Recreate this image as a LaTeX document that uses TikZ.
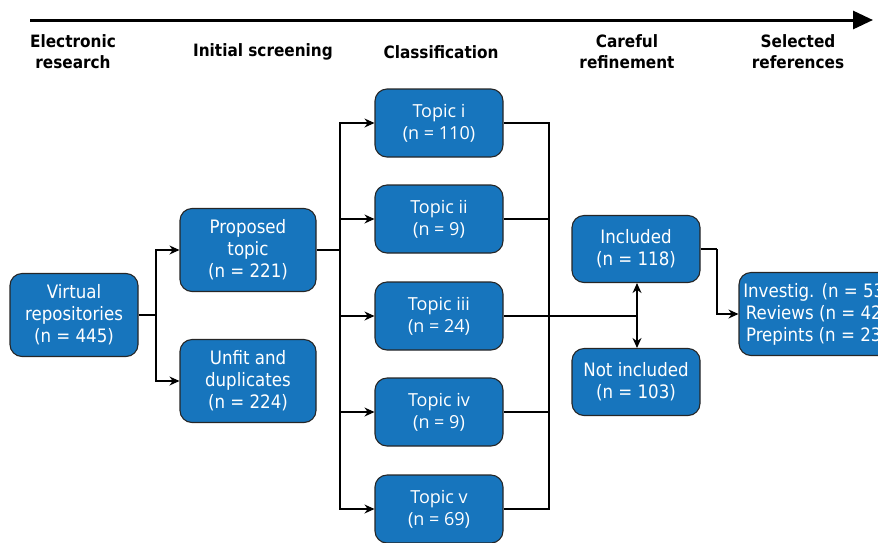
\documentclass[tikz,border=0pt]{standalone}
\usepackage{fontspec}
\setmainfont{DejaVu Sans Condensed}
\newfontfamily\topicfont{Open Sans}
\usetikzlibrary{arrows.meta}
\definecolor{boxblue}{RGB}{23,117,189}
\begin{document}
\begin{tikzpicture}[x=1pt,y=-1pt,
  box/.style={draw=black!85, line width=1.1pt, fill=boxblue, rounded corners=12pt, text=white, align=center, font=\fontsize{18.5}{22}\selectfont, inner sep=0pt, minimum width=128pt, minimum height=83pt},
  topicbox/.style={box, minimum height=68pt, font=\topicfont\fontsize{18}{22}\selectfont},
  refbox/.style={box, minimum height=67pt},
  hdr/.style={font=\bfseries\fontsize{17}{21}\selectfont, align=center, inner sep=0pt},
  conn/.style={line width=1.1pt},
  arr/.style={conn, -{Stealth[length=10pt,width=9pt]}}]
\useasboundingbox (0,0) rectangle (878,542);
\clip (0,0) rectangle (878,542);
% timeline
\coordinate (ts) at (30,20);
\coordinate (te) at (873,20);
\draw[line width=3pt, -{Triangle[length=20pt,width=18pt]}] (ts) -- (te);
\node[hdr] (h1) at (73,52) {Electronic\\research};
\node[hdr] (h2) at (263,52) {Initial screening};
\node[hdr] (h3) at (441,52) {Classification};
\node[hdr] (h4) at (627,52) {Careful\\refinement};
\node[hdr] (h5) at (798,52) {Selected\\references};
% boxes
\node[box] (vr) at (74,315) {Virtual\\repositories\\(n = 445)};
\node[box, minimum width=136pt] (pt) at (248,250) {Proposed\\topic\\(n = 221)};
\node[box, minimum width=136pt] (uf) at (248,381) {Unfit and\\duplicates\\(n = 224)};
\node[topicbox] (t1) at (439,123) {Topic i\\(n = 110)};
\node[topicbox] (t2) at (439,219) {Topic ii\\(n = 9)};
\node[topicbox] (t3) at (439,316) {Topic iii\\(n = 24)};
\node[topicbox] (t4) at (439,412) {Topic iv\\(n = 9)};
\node[topicbox] (t5) at (439,509) {Topic v\\(n = 69)};
\node[refbox] (inc) at (636,249) {Included\\(n = 118)};
\node[refbox] (ninc) at (636,382) {Not included\\(n = 103)};
\node[box, minimum width=156pt] (sel) at (817,314) {Investig. (n = 53)\\Reviews (n = 42)\\Prepints (n = 23)};
% connectors
\coordinate (j1) at (156,315);
\draw[conn] (vr.east) -- (j1);
\draw[arr] (j1) |- (pt.west);
\draw[arr] (j1) |- (uf.west);
\coordinate (j2) at (340,250);
\draw[conn] (pt.east) -- (j2);
\draw[arr] (j2) |- (t1.west);
\draw[arr] (j2) |- (t2.west);
\draw[arr] (j2) |- (t3.west);
\draw[arr] (j2) |- (t4.west);
\draw[arr] (j2) |- (t5.west);
\coordinate (j3) at (549,316);
\coordinate (j4) at (637,316);
\draw[conn] (t1.east) -| (j3);
\draw[conn] (t2.east) -| (j3);
\draw[conn] (t4.east) -| (j3);
\draw[conn] (t5.east) -| (j3);
\draw[conn] (t3.east) -- (j4);
\draw[arr] (j4) -- (inc.south -| j4);
\draw[arr] (j4) -- (ninc.north -| j4);
\coordinate (j5) at (717,249);
\draw[conn] (inc.east) -- (j5);
\draw[arr] (j5) |- (sel.west);
\end{tikzpicture}
\end{document}
